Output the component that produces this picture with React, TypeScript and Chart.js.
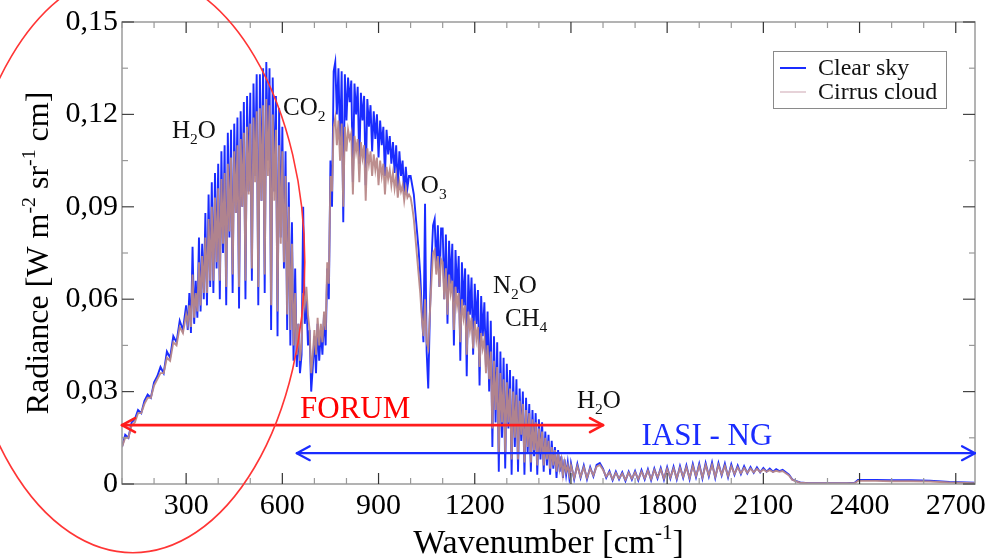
import React, { useEffect, useRef } from 'react';
import { Chart, registerables } from 'chart.js';

Chart.register(...registerables);

// Rows: [wavenumber (cm-1), clear sky radiance, cirrus cloud radiance]
const farInfrared: number[][] = [
  [100,0.012,0.012],[110,0.016,0.015],[120,0.015,0.015],[130,0.020,0.019],[140,0.021,0.020],[150,0.024,0.023],[160,0.023,0.023],[170,0.027,0.026],[180,0.029,0.028],[190,0.028,0.028],[200,0.033,0.032],[210,0.035,0.034],[220,0.038,0.036],[230,0.036,0.036],[240,0.043,0.041],[250,0.041,0.040],[260,0.048,0.046],[270,0.046,0.045],[280,0.053,0.051],[290,0.050,0.049],
];

const waterRotationBand: number[][] = [
  [300,0.058,0.055],[305,0.050,0.052],[310,0.062,0.058],[315,0.049,0.051],[320,0.077,0.068],[325,0.052,0.054],[330,0.066,0.062],[335,0.054,0.056],[340,0.080,0.072],[345,0.056,0.058],[350,0.078,0.074],[355,0.060,0.062],[360,0.088,0.080],[365,0.058,0.062],[370,0.094,0.086],[375,0.064,0.066],[380,0.098,0.090],[385,0.062,0.066],[390,0.101,0.093],[395,0.070,0.072],[400,0.104,0.096],[405,0.060,0.066],[410,0.108,0.099],[415,0.075,0.078],[420,0.110,0.101],[425,0.058,0.064],[430,0.114,0.104],[435,0.080,0.082],[440,0.115,0.106],[445,0.062,0.068],[450,0.117,0.108],[455,0.088,0.088],[460,0.119,0.110],[465,0.057,0.064],[470,0.121,0.112],[475,0.090,0.090],[480,0.124,0.114],[485,0.060,0.066],[490,0.126,0.116],[495,0.095,0.094],[500,0.127,0.117],[505,0.066,0.070],[510,0.130,0.119],[515,0.100,0.098],[520,0.133,0.121],[525,0.058,0.064],[530,0.133,0.122],[535,0.092,0.092],[540,0.135,0.123],[545,0.062,0.068],[550,0.137,0.125],[555,0.105,0.100],[560,0.135,0.123],[565,0.050,0.058],[570,0.132,0.120],[575,0.095,0.092],[580,0.126,0.115],[585,0.048,0.056],[590,0.122,0.110],[595,0.080,0.078],
];

const co2Band: number[][] = [
  [600,0.116,0.108],[605,0.070,0.072],[610,0.108,0.100],[615,0.050,0.055],[620,0.098,0.090],[625,0.045,0.050],[630,0.085,0.078],[635,0.040,0.045],[640,0.070,0.062],[645,0.038,0.042],[650,0.052,0.052],[655,0.036,0.040],[660,0.042,0.046],[665,0.090,0.062],[670,0.052,0.058],[675,0.060,0.064],[680,0.045,0.055],[685,0.050,0.050],[690,0.030,0.036],[695,0.038,0.042],[700,0.048,0.050],[705,0.036,0.042],[710,0.052,0.054],[715,0.040,0.045],[720,0.050,0.052],[725,0.042,0.046],[730,0.055,0.056],[735,0.045,0.050],[740,0.070,0.072],[745,0.060,0.065],[750,0.105,0.100],[755,0.090,0.095],
];

const atmosphericWindow: number[][] = [
  [760,0.134,0.116],[765,0.137,0.119],[770,0.120,0.110],[775,0.135,0.118],[780,0.110,0.105],[785,0.134,0.117],[790,0.085,0.090],[795,0.133,0.116],[800,0.118,0.108],[805,0.132,0.115],[810,0.124,0.112],[815,0.131,0.114],[820,0.098,0.094],[825,0.130,0.113],[830,0.120,0.108],[835,0.129,0.112],[840,0.104,0.098],[845,0.127,0.111],[850,0.118,0.106],[855,0.126,0.110],[860,0.097,0.092],[865,0.125,0.109],[870,0.116,0.104],[875,0.123,0.108],[880,0.108,0.100],[885,0.121,0.107],[890,0.112,0.102],[895,0.120,0.106],[900,0.106,0.097],[905,0.118,0.105],[910,0.110,0.100],[915,0.116,0.104],[920,0.100,0.094],[925,0.115,0.103],[930,0.107,0.099],[935,0.113,0.102],[940,0.104,0.097],[945,0.111,0.101],[950,0.101,0.096],[955,0.110,0.100],[960,0.096,0.093],[965,0.108,0.098],[970,0.100,0.095],[975,0.105,0.097],[980,0.094,0.092],[985,0.103,0.096],[990,0.096,0.093],[995,0.100,0.094],
];

const ozoneBand: number[][] = [
  [1000,0.100,0.093],[1005,0.097,0.090],[1010,0.094,0.086],[1015,0.088,0.080],[1020,0.082,0.074],[1025,0.076,0.068],[1030,0.068,0.062],[1035,0.056,0.054],[1040,0.046,0.048],[1045,0.091,0.060],[1050,0.043,0.046],[1055,0.031,0.044],[1060,0.055,0.055],[1065,0.072,0.066],[1070,0.084,0.075],[1075,0.086,0.076],[1080,0.070,0.068],[1085,0.084,0.074],[1090,0.064,0.064],[1095,0.083,0.073],
];

const n2oCh4Band: number[][] = [
  [1100,0.083,0.072],[1105,0.060,0.060],[1110,0.081,0.070],[1115,0.052,0.055],[1120,0.079,0.068],[1125,0.065,0.062],[1130,0.078,0.066],[1135,0.045,0.050],[1140,0.076,0.064],[1145,0.062,0.058],[1150,0.074,0.062],[1155,0.040,0.046],[1160,0.072,0.060],[1165,0.058,0.054],[1170,0.070,0.058],[1175,0.035,0.042],[1180,0.068,0.056],[1185,0.055,0.050],[1190,0.067,0.054],[1195,0.042,0.044],[1200,0.065,0.053],[1205,0.052,0.047],[1210,0.063,0.051],[1215,0.032,0.038],[1220,0.061,0.049],[1225,0.048,0.044],[1230,0.059,0.047],[1235,0.038,0.036],[1240,0.056,0.045],[1245,0.030,0.034],[1250,0.053,0.043],[1255,0.012,0.018],[1260,0.048,0.040],[1265,0.020,0.024],[1270,0.046,0.038],[1275,0.004,0.010],[1280,0.043,0.036],[1285,0.015,0.020],[1290,0.041,0.034],[1295,0.005,0.010],[1300,0.039,0.033],[1305,0.018,0.020],[1310,0.037,0.031],[1315,0.003,0.008],[1320,0.035,0.030],[1325,0.012,0.015],[1330,0.034,0.029],[1335,0.004,0.008],[1340,0.031,0.027],[1345,0.014,0.016],[1350,0.030,0.026],[1355,0.003,0.007],[1360,0.028,0.024],[1365,0.010,0.012],[1370,0.026,0.023],[1375,0.004,0.007],[1380,0.024,0.021],[1385,0.009,0.011],[1390,0.023,0.020],[1395,0.003,0.006],[1400,0.021,0.018],[1405,0.008,0.010],[1410,0.020,0.017],[1415,0.004,0.006],[1420,0.017,0.015],[1425,0.006,0.008],[1430,0.016,0.014],[1435,0.003,0.005],[1440,0.014,0.012],[1445,0.005,0.006],[1450,0.012,0.011],[1455,0.002,0.004],[1460,0.011,0.010],[1465,0.004,0.005],[1470,0.009,0.008],[1475,0.002,0.003],[1480,0.008,0.007],[1485,0.003,0.004],[1490,0.007,0.006],[1495,0.002,0.003],
];

const waterVibrationBand: number[][] = [
  [1500,0.0068,0.0060],[1510,0.0015,0.0020],[1520,0.0065,0.0058],[1530,0.0020,0.0024],[1540,0.0060,0.0054],[1550,0.0015,0.0020],[1560,0.0055,0.0050],[1570,0.0025,0.0028],[1580,0.0062,0.0056],[1590,0.0068,0.0062],[1600,0.0050,0.0046],[1610,0.0020,0.0024],[1620,0.0042,0.0038],[1630,0.0012,0.0016],[1640,0.0040,0.0036],[1650,0.0015,0.0018],[1660,0.0038,0.0034],[1670,0.0010,0.0014],[1680,0.0040,0.0036],[1690,0.0014,0.0018],[1700,0.0042,0.0038],[1710,0.0012,0.0016],[1720,0.0045,0.0040],[1730,0.0015,0.0019],[1740,0.0048,0.0043],[1750,0.0012,0.0016],[1760,0.0050,0.0045],[1770,0.0018,0.0022],[1780,0.0052,0.0047],[1790,0.0014,0.0018],[1800,0.0055,0.0049],[1810,0.0018,0.0022],[1820,0.0056,0.0050],[1830,0.0015,0.0019],[1840,0.0058,0.0052],[1850,0.0020,0.0024],[1860,0.0060,0.0054],[1870,0.0016,0.0020],[1880,0.0065,0.0058],[1890,0.0022,0.0026],[1900,0.0066,0.0059],[1910,0.0018,0.0022],[1920,0.0068,0.0061],[1930,0.0025,0.0029],[1940,0.0070,0.0062],[1950,0.0020,0.0024],[1960,0.0068,0.0061],[1970,0.0028,0.0031],[1980,0.0066,0.0059],[1990,0.0022,0.0026],[2000,0.0064,0.0057],[2010,0.0030,0.0033],[2020,0.0060,0.0054],[2030,0.0032,0.0035],[2040,0.0058,0.0052],[2050,0.0035,0.0037],[2060,0.0055,0.0050],[2070,0.0036,0.0038],[2080,0.0054,0.0049],[2090,0.0038,0.0039],[2100,0.0052,0.0047],[2110,0.0040,0.0040],[2120,0.0050,0.0045],[2130,0.0040,0.0039],[2140,0.0048,0.0043],[2150,0.0042,0.0040],[2160,0.0046,0.0042],[2170,0.0038,0.0035],[2180,0.0030,0.0028],[2190,0.0015,0.0014],
];

const shortwave: number[][] = [
  [2200,0.0010,0.0009],[2215,0.0005,0.0004],[2240,0.0003,0.0003],[2300,0.0003,0.0003],[2360,0.0003,0.0003],[2385,0.0004,0.0003],[2395,0.0013,0.0010],[2450,0.0013,0.0010],[2500,0.0012,0.0009],[2560,0.0012,0.0009],[2620,0.0011,0.0008],[2680,0.0007,0.0005],[2760,0.0004,0.0003],
];

const xMajorTicks = [300, 600, 900, 1200, 1500, 1800, 2100, 2400, 2700];
const xMinorTicks = [100, 200, 400, 500, 700, 800, 1000, 1100, 1300, 1400, 1600, 1700, 1900, 2000, 2200, 2300, 2500, 2600];
const yMajorTicks = [0, 0.03, 0.06, 0.09, 0.12, 0.15];
const yMinorTicks = [0.015, 0.045, 0.075, 0.105, 0.135];

type Part = [string, 'n' | 'sub' | 'sup'];

const moleculeLabels: { parts: Part[]; wn: number; rad: number }[] = [
  { parts: [['H', 'n'], ['2', 'sub'], ['O', 'n']], wn: 256, rad: 0.1125 },
  { parts: [['CO', 'n'], ['2', 'sub']], wn: 602, rad: 0.1198 },
  { parts: [['O', 'n'], ['3', 'sub']], wn: 1032, rad: 0.0944 },
  { parts: [['N', 'n'], ['2', 'sub'], ['O', 'n']], wn: 1257, rad: 0.0621 },
  { parts: [['CH', 'n'], ['4', 'sub']], wn: 1294, rad: 0.0514 },
  { parts: [['H', 'n'], ['2', 'sub'], ['O', 'n']], wn: 1519, rad: 0.0247 },
];

const forumRange = { from: 100, to: 1600, rad: 0.0191, label: 'FORUM', labelWn: 827, labelRad: 0.0213 };
const iasiRange = { from: 645, to: 2760, rad: 0.0100, label: 'IASI - NG', labelWn: 1924, labelRad: 0.0126 };
const farIrEllipse = { wn: 134, rad: 0.0721, rWn: 536, rRad: 0.0944 };

const xTitle: Part[] = [['Wavenumber [cm', 'n'], ['-1', 'sup'], [']', 'n']];
const yTitle: Part[] = [['Radiance [W m', 'n'], ['-2', 'sup'], [' sr', 'n'], ['-1', 'sup'], [' cm]', 'n']];

const FONT = "'Liberation Serif', 'Times New Roman', Times, serif";
const BLUE = '#1a2cff';
const BROWN = 'rgba(184,136,136,0.95)';

function drawRich(ctx: CanvasRenderingContext2D, parts: Part[], x: number, y: number, size: number, align: 'left' | 'center') {
  const small = size * 0.62;
  const widths = parts.map(([t, m]) => {
    ctx.font = `${m === 'n' ? size : small}px ${FONT}`;
    return ctx.measureText(t).width;
  });
  const total = widths.reduce((a, b) => a + b, 0);
  let cx = align === 'center' ? x - total / 2 : x;
  ctx.textAlign = 'left';
  ctx.textBaseline = 'alphabetic';
  parts.forEach(([t, m], i) => {
    ctx.font = `${m === 'n' ? size : small}px ${FONT}`;
    const dy = m === 'sub' ? size * 0.24 : m === 'sup' ? -size * 0.42 : 0;
    ctx.fillText(t, cx, y + dy);
    cx += widths[i];
  });
}

function drawArrow(ctx: CanvasRenderingContext2D, x1: number, x2: number, y: number, color: string, width: number) {
  ctx.save();
  ctx.strokeStyle = color;
  ctx.lineWidth = width;
  ctx.lineCap = 'round';
  ctx.lineJoin = 'round';
  ctx.beginPath();
  ctx.moveTo(x1, y);
  ctx.lineTo(x2, y);
  ctx.stroke();
  const hl = 13, hw = 7;
  ctx.beginPath();
  ctx.moveTo(x1 + hl, y - hw);
  ctx.lineTo(x1, y);
  ctx.lineTo(x1 + hl, y + hw);
  ctx.moveTo(x2 - hl, y - hw);
  ctx.lineTo(x2, y);
  ctx.lineTo(x2 - hl, y + hw);
  ctx.stroke();
  ctx.restore();
}

const overlayPlugin = {
  id: 'overlay',
  afterDraw(chart: any) {
    const ctx: CanvasRenderingContext2D = chart.ctx;
    const { left, right, top, bottom } = chart.chartArea;
    const xs = chart.scales.x;
    const ys = chart.scales.y;
    ctx.save();

    ctx.strokeStyle = '#9a9a9a';
    ctx.lineWidth = 1.5;
    ctx.strokeRect(left, top, right - left, bottom - top);

    const tick = (x1: number, y1: number, x2: number, y2: number, color: string) => {
      ctx.strokeStyle = color;
      ctx.lineWidth = 1.2;
      ctx.beginPath();
      ctx.moveTo(x1, y1);
      ctx.lineTo(x2, y2);
      ctx.stroke();
    };
    xMajorTicks.forEach(v => {
      const p = xs.getPixelForValue(v);
      tick(p, bottom, p, bottom - 11, '#333');
      tick(p, top, p, top + 11, '#333');
    });
    xMinorTicks.forEach(v => {
      const p = xs.getPixelForValue(v);
      tick(p, bottom, p, bottom - 6, '#999');
      tick(p, top, p, top + 6, '#999');
    });
    yMajorTicks.forEach(v => {
      const p = ys.getPixelForValue(v);
      tick(left, p, left + 12, p, '#444');
      tick(right, p, right - 12, p, '#444');
    });
    yMinorTicks.forEach(v => {
      const p = ys.getPixelForValue(v);
      tick(left, p, left + 6, p, '#999');
      tick(right, p, right - 6, p, '#999');
    });

    ctx.fillStyle = '#111';
    moleculeLabels.forEach(l => {
      drawRich(ctx, l.parts, xs.getPixelForValue(l.wn), ys.getPixelForValue(l.rad), 25, 'left');
    });

    drawArrow(ctx, xs.getPixelForValue(forumRange.from), xs.getPixelForValue(forumRange.to), ys.getPixelForValue(forumRange.rad), '#ff1c1c', 2.6);
    drawArrow(ctx, xs.getPixelForValue(iasiRange.from), xs.getPixelForValue(iasiRange.to), ys.getPixelForValue(iasiRange.rad), BLUE, 2.2);
    ctx.fillStyle = '#ff0000';
    drawRich(ctx, [[forumRange.label, 'n']], xs.getPixelForValue(forumRange.labelWn), ys.getPixelForValue(forumRange.labelRad), 31, 'center');
    ctx.fillStyle = BLUE;
    drawRich(ctx, [[iasiRange.label, 'n']], xs.getPixelForValue(iasiRange.labelWn), ys.getPixelForValue(iasiRange.labelRad), 31, 'center');

    const ecx = xs.getPixelForValue(farIrEllipse.wn);
    const ecy = ys.getPixelForValue(farIrEllipse.rad);
    const erx = xs.getPixelForValue(farIrEllipse.wn + farIrEllipse.rWn) - ecx;
    const ery = ecy - ys.getPixelForValue(farIrEllipse.rad + farIrEllipse.rRad);
    ctx.strokeStyle = '#ff3535';
    ctx.lineWidth = 1.6;
    ctx.beginPath();
    ctx.ellipse(ecx, ecy, erx, ery, 0, 0, Math.PI * 2);
    ctx.stroke();

    const lw = 173, lh = 57;
    const lx = right - 29 - lw, ly = top + 29;
    ctx.fillStyle = '#fff';
    ctx.fillRect(lx, ly, lw, lh);
    ctx.strokeStyle = '#8a8a8a';
    ctx.lineWidth = 1;
    ctx.strokeRect(lx + 0.5, ly + 0.5, lw, lh);
    const items = [
      { label: 'Clear sky', color: BLUE, dy: 17, w: 2 },
      { label: 'Cirrus cloud', color: '#e6d2d8', dy: 41, w: 2 },
    ];
    items.forEach(it => {
      ctx.strokeStyle = it.color;
      ctx.lineWidth = it.w;
      ctx.beginPath();
      ctx.moveTo(lx + 7, ly + it.dy);
      ctx.lineTo(lx + 33, ly + it.dy);
      ctx.stroke();
      ctx.fillStyle = '#111';
      drawRich(ctx, [[it.label, 'n']], lx + 45, ly + it.dy + 7, 24, 'left');
    });

    ctx.fillStyle = '#000';
    drawRich(ctx, xTitle, (left + right) / 2, bottom + 69, 34, 'center');
    ctx.save();
    ctx.translate(48, (top + bottom) / 2);
    ctx.rotate(-Math.PI / 2);
    drawRich(ctx, yTitle, 0, 0, 32, 'center');
    ctx.restore();

    ctx.restore();
  },
};

function toPoints(col: number) {
  return [farInfrared, waterRotationBand, co2Band, atmosphericWindow, ozoneBand, n2oCh4Band, waterVibrationBand, shortwave]
    .flat()
    .map(r => ({ x: r[0], y: r[col] }));
}

export default function App() {
  const ref = useRef<HTMLCanvasElement>(null);
  useEffect(() => {
    document.body.style.margin = '0';
    const canvas = ref.current!;
    const chart = new Chart(canvas, {
      type: 'line',
      data: {
        datasets: [
          { label: 'Cirrus cloud', data: toPoints(2), borderColor: BROWN, borderWidth: 1.9, pointRadius: 0, fill: false, tension: 0 },
          { label: 'Clear sky', data: toPoints(1), borderColor: BLUE, borderWidth: 1.9, pointRadius: 0, fill: false, tension: 0 },
        ],
      },
      options: {
        animation: false,
        responsive: false,
        devicePixelRatio: 1,
        layout: { padding: { left: 0, right: 17, top: 20, bottom: 0 } },
        plugins: { legend: { display: false }, tooltip: { enabled: false } },
        scales: {
          x: {
            type: 'linear',
            min: 100,
            max: 2760,
            afterBuildTicks: (s: any) => { s.ticks = xMajorTicks.map(v => ({ value: v })); },
            afterFit: (s: any) => { s.height = 75; },
            grid: { display: false, drawTicks: false },
            border: { display: false },
            ticks: { autoSkip: false, maxRotation: 0, padding: 4, color: '#000', font: { family: FONT, size: 30 }, callback: (v: any) => String(v) },
          },
          y: {
            type: 'linear',
            min: 0,
            max: 0.15,
            afterBuildTicks: (s: any) => { s.ticks = yMajorTicks.map(v => ({ value: v })); },
            afterFit: (s: any) => { s.width = 122; },
            grid: { display: false, drawTicks: false },
            border: { display: false },
            ticks: { padding: 4, color: '#000', font: { family: FONT, size: 30 }, callback: (v: any) => (Number(v) === 0 ? '0' : Number(v).toFixed(2).replace('.', ',')) },
          },
        },
      },
      plugins: [overlayPlugin],
    });
    return () => chart.destroy();
  }, []);
  return (
    <div style={{ width: 992, height: 559, position: 'relative', background: '#fff' }}>
      <canvas ref={ref} width={992} height={559} style={{ display: 'block' }} />
    </div>
  );
}
